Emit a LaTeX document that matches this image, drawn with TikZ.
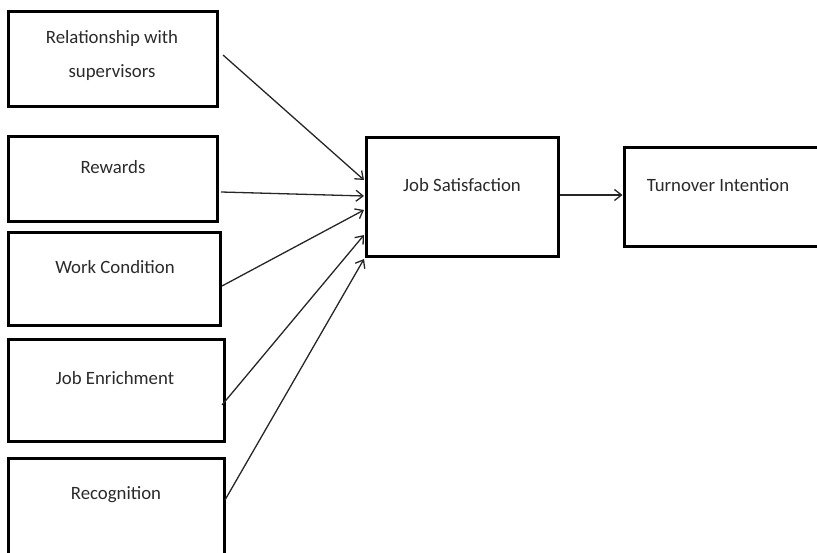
\documentclass[tikz,border=0pt]{standalone}
\usepackage{fontspec}
\setmainfont{Carlito}
\usetikzlibrary{arrows.meta}
\definecolor{txtgray}{HTML}{2A2A2A}
\tikzset{
  boxshape/.style={draw=black, line width=3pt, rectangle, inner sep=0pt},
  lbl/.style={text=txtgray, font=\fontsize{18.8}{34}\selectfont, align=center, inner sep=0pt},
  conn/.style={draw=black!85, line width=1.3pt, -{Straight Barb[length=7pt,width=11pt,line width=1.3pt]}}
}
\begin{document}
\begin{tikzpicture}[x=1pt,y=-1pt]
\useasboundingbox (0,0) rectangle (817,553);
% left boxes
\node[boxshape, minimum width=209pt, minimum height=95pt] (rel) at (112.5,59.5) {};
\node[boxshape, minimum width=209pt, minimum height=85pt] (rew) at (112.5,179.5) {};
\node[boxshape, minimum width=212pt, minimum height=93pt] (wc) at (114,279.5) {};
\node[boxshape, minimum width=216pt, minimum height=101pt] (je) at (116,390.5) {};
\node[boxshape, minimum width=216pt, minimum height=102pt] (rec) at (116,509) {};
% right boxes
\node[boxshape, minimum width=192pt, minimum height=119pt] (js) at (462,197.5) {};
\node[boxshape, minimum width=200pt, minimum height=99pt] (ti) at (724,197.5) {};
% texts
\node[lbl] (t1) at (112,55) {Relationship with\\supervisors};
\node[lbl] (t2) at (113,167) {Rewards};
\node[lbl] (t3) at (115,267) {Work Condition};
\node[lbl] (t4) at (115,378) {Job Enrichment};
\node[lbl] (t5) at (116,495) {Recognition};
\node[lbl] (t6) at (462,185) {Job Satisfaction};
\node[lbl] (t7) at (718,185) {Turnover Intention};
% connectors
\coordinate (s1) at (223,55);
\coordinate (s2) at (221,192);
\coordinate (s3) at (222,286);
\coordinate (s4) at (222,405);
\coordinate (s5) at (225,500);
\coordinate (e1) at (364,180);
\coordinate (e2) at (364,196);
\coordinate (e3) at (364,210);
\coordinate (e4) at (364,235);
\coordinate (e5) at (364,259);
\draw[conn] (s1) -- (e1);
\draw[conn] (s2) -- (e2);
\draw[conn] (s3) -- (e3);
\draw[conn] (s4) -- (e4);
\draw[conn] (s5) -- (e5);
\draw[conn] (js.east |- 0,195) -- (ti.west |- 0,195);
\end{tikzpicture}
\end{document}
